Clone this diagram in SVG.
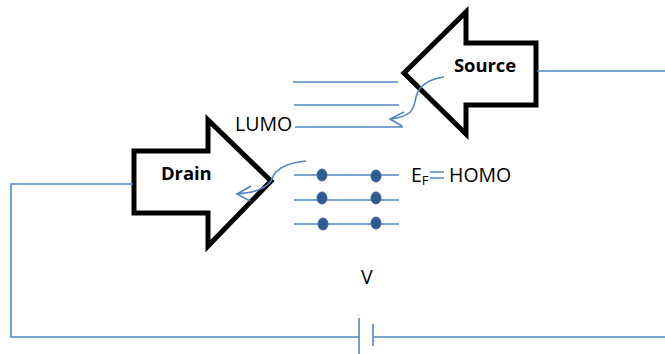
<svg xmlns="http://www.w3.org/2000/svg" width="665" height="354" viewBox="0 0 665 354">
<style>
.w{fill:none;stroke:#5585c0;stroke-width:1.6}
.a{fill:#fff;stroke:#000;stroke-width:5;stroke-linejoin:miter}
.t{font-family:"Open Sans","Noto Sans",sans-serif;font-size:19.5px;fill:#000}
.b{font-family:"Open Sans","Noto Sans",sans-serif;font-size:18.5px;font-weight:700;fill:#000;letter-spacing:-.1px}
.e{fill:#2f5a94;stroke:#3a669e;stroke-width:1}
</style>
<rect width="665" height="354" fill="#fff"/>
<g id="source"><path class="a" d="M466 12V43H536V105H466V134L404 73Z"/><text class="b" x="454" y="72">Source</text></g>
<g id="drain"><path class="a" d="M208 120V151H134V213H208V246L271 181Z"/><text class="b" x="161" y="180">Drain</text></g>
<g id="connectors">
<path class="w" d="M537 71H665M133 184H11V337H359M359 318V354M373 324V346M373 337H665"/>
<path class="w" d="M293 82H398M294 105H399M295 127H403"/>
<path class="w" d="M294 175H399M294 200H399M294 224H399"/>
<path class="w" d="M444 77C430 79 419 85 416 97C414 111 410 117 390 119M404 112L390 119L402 126"/>
<path class="w" d="M306 161C285 163 274 170 271 181C265 189 252 193 237 194M251 186L237 194L250 201"/>
<path class="w" d="M430 172H444M430 178H444"/>
</g>
<g id="electrons">
<ellipse class="e" cx="322" cy="175" rx="5" ry="6"/><ellipse class="e" cx="376" cy="176" rx="5" ry="6"/>
<ellipse class="e" cx="322" cy="198" rx="5" ry="6"/><ellipse class="e" cx="376" cy="198" rx="5" ry="6"/>
<ellipse class="e" cx="323" cy="224" rx="5" ry="6"/><ellipse class="e" cx="376" cy="223" rx="5" ry="6"/>
</g>
<g id="labels">
<text class="t" x="235" y="131">LUMO</text>
<text class="t" x="411" y="182">E<tspan font-size="13" dy="3">F</tspan></text>
<text class="t" x="449" y="182">HOMO</text>
<text class="t" x="361" y="284">V</text>
</g>
</svg>
